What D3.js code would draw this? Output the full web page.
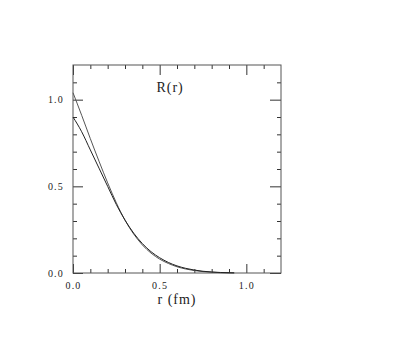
<!DOCTYPE html>
<html>
<head>
<meta charset="utf-8">
<script src="https://cdnjs.cloudflare.com/ajax/libs/d3/7.8.5/d3.min.js"></script>
<style>
  body { margin: 0; background: #fff; }
  text { font-family: "Liberation Serif", "DejaVu Serif", serif; fill: #222; }
</style>
</head>
<body>
<div id="chart"></div>
<script>
// radius values (fm)
var rValues = [0, 0.05, 0.10, 0.15, 0.20, 0.25, 0.30, 0.35, 0.40, 0.45, 0.50,
               0.55, 0.60, 0.65, 0.70, 0.75, 0.80, 0.85, 0.90, 0.93];
// curve with the higher peak
var curveA = [1.04, 0.91, 0.775, 0.645, 0.52, 0.405, 0.305, 0.225, 0.162, 0.115, 0.080,
              0.055, 0.036, 0.023, 0.014, 0.008, 0.0045, 0.002, 0.001, 0.0005];
// curve with the lower peak
var curveB = [0.90, 0.815, 0.71, 0.605, 0.50, 0.395, 0.305, 0.23, 0.17, 0.123, 0.088,
              0.061, 0.041, 0.027, 0.017, 0.010, 0.006, 0.003, 0.0015, 0.0008];
var majorTicks = [0, 0.5, 1.0];
var minorTicks = [0.1, 0.2, 0.3, 0.4, 0.6, 0.7, 0.8, 0.9, 1.1];

// svg size
var svgWidth = 407;
var svgHeight = 348;

// plot frame
var margin = { top: 65, left: 73 };
var chartWidth = 208;
var chartHeight = 208;

var svg = d3.select("#chart")
    .append("svg")
    .attr("width", svgWidth)
    .attr("height", svgHeight);

var chartGroup = svg.append("g")
    .attr("transform", `translate(${margin.left}, ${margin.top})`);

var xScale = d3.scaleLinear().domain([0, 1.2]).range([0, chartWidth]);
var yScale = d3.scaleLinear().domain([0, 1.2]).range([chartHeight, 0]);

// ticks pointing inward on all four sides
function addAxis(axisFn, scale, transform, vals, size, labels) {
  var g = chartGroup.append("g")
      .attr("transform", transform)
      .call(axisFn(scale)
        .tickValues(vals)
        .tickSize(-size)
        .tickPadding(9)
        .tickFormat(labels ? d3.format(".1f") : ""));
  g.select(".domain").remove();
  g.selectAll("line").attr("stroke", "#333");
  g.selectAll("text")
      .style("font-size", "10px")
      .style("letter-spacing", "1.2px")
      .attr("fill", "#222");
  return g;
}

addAxis(d3.axisBottom, xScale, `translate(0, ${chartHeight})`, minorTicks, 4, false);
addAxis(d3.axisBottom, xScale, `translate(0, ${chartHeight})`, majorTicks, 9, true);
addAxis(d3.axisTop, xScale, "translate(0, 0)", minorTicks, 4, false);
addAxis(d3.axisTop, xScale, "translate(0, 0)", majorTicks, 10, false);
addAxis(d3.axisLeft, yScale, "translate(0, 0)", minorTicks, 4, false);
addAxis(d3.axisLeft, yScale, "translate(0, 0)", majorTicks, 10, true);
addAxis(d3.axisRight, yScale, `translate(${chartWidth}, 0)`, minorTicks, 4, false);
addAxis(d3.axisRight, yScale, `translate(${chartWidth}, 0)`, majorTicks, 11, false);

// frame
chartGroup.append("rect")
    .attr("x", 0)
    .attr("y", 0)
    .attr("width", chartWidth)
    .attr("height", chartHeight)
    .attr("fill", "none")
    .attr("stroke", "#555")
    .attr("stroke-width", 1);

// curves
var line = d3.line()
    .x(d => xScale(d[0]))
    .y(d => yScale(d[1]))
    .curve(d3.curveMonotoneX);

chartGroup.append("path")
    .datum(d3.zip(rValues, curveA))
    .attr("d", line)
    .attr("fill", "none")
    .attr("stroke", "#555")
    .attr("stroke-width", 1);

chartGroup.append("path")
    .datum(d3.zip(rValues, curveB))
    .attr("d", line)
    .attr("fill", "none")
    .attr("stroke", "#222")
    .attr("stroke-width", 1);

// title inside the frame
chartGroup.append("text")
    .attr("x", xScale(0.56))
    .attr("y", 27)
    .attr("text-anchor", "middle")
    .style("font-size", "14px")
    .style("letter-spacing", "1px")
    .text("R(r)");

// x axis label
chartGroup.append("text")
    .attr("x", chartWidth / 2)
    .attr("y", chartHeight + 31)
    .attr("text-anchor", "middle")
    .style("font-size", "14px")
    .style("letter-spacing", "1px")
    .text("r (fm)");
</script>
</body>
</html>
